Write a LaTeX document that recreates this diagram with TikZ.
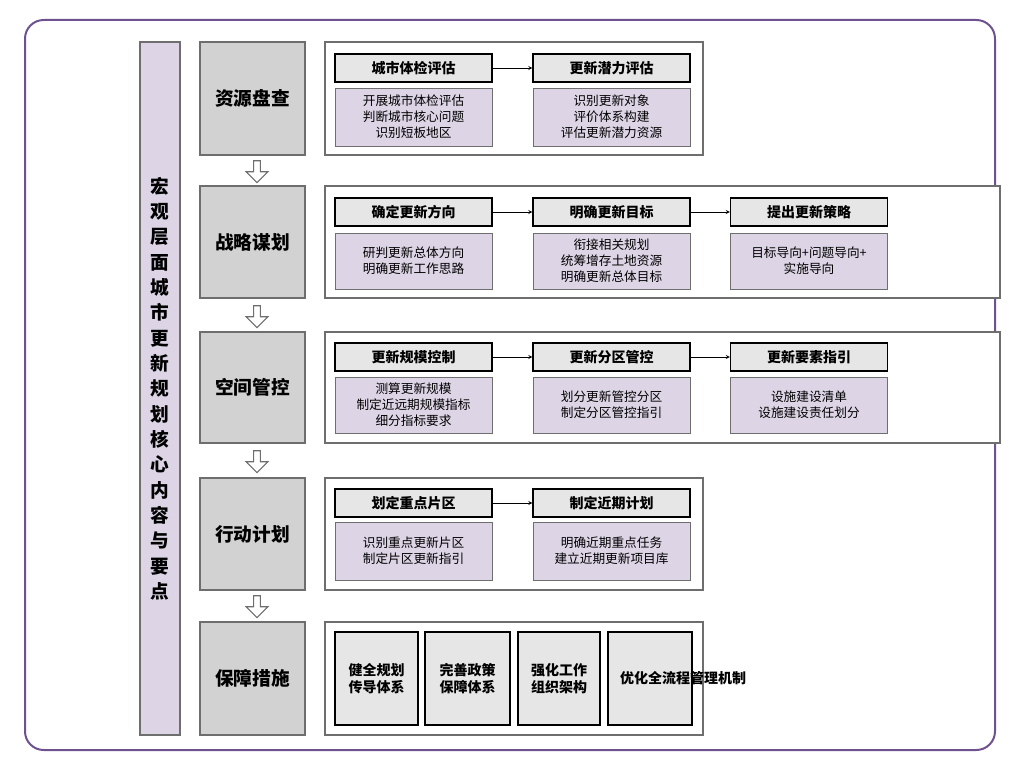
\documentclass[tikz,border=0pt]{standalone}
\usepackage{fontspec}
\setmainfont{Noto Sans CJK SC}
\usetikzlibrary{shapes.arrows}
\definecolor{frameP}{HTML}{6E5290}
\definecolor{lilac}{HTML}{DDD5E6}
\definecolor{stageG}{HTML}{D2D2D2}
\definecolor{headG}{HTML}{E6E6E6}
\definecolor{lineG}{HTML}{6E6E6E}

\begin{document}
\begin{tikzpicture}[x=0.75pt,y=-0.75pt,>=stealth]
  \tikzstyle{stage}=[draw=lineG,fill=stageG,line width=1pt,minimum width=105*0.75pt,font=\fontsize{14}{16}\selectfont\bfseries]
  \tikzstyle{group}=[draw=lineG,line width=2pt,fill=white]
  \tikzstyle{head}=[draw=black,fill=headG,line width=0.8pt,minimum width=157*0.75pt,minimum height=28*0.75pt,inner sep=0pt,font=\fontsize{10.5}{12}\selectfont\bfseries]
  \tikzstyle{body}=[fill=lilac,draw=lineG,line width=0.4pt,minimum width=157*0.75pt,inner sep=0pt,align=center,font=\fontsize{9.5}{12}\selectfont]
  \tikzstyle{down}=[single arrow,draw=lineG,fill=white,line width=0.8pt,shape border rotate=270,minimum width=22*0.75pt,single arrow head extend=7*0.75pt,minimum height=22*0.75pt,inner sep=2pt]

  \useasboundingbox (0,0) rectangle (1022,770);
  \draw[frameP,line width=1.5pt,rounded corners=14pt] (25,20) rectangle (995,750);

  % left title bar
  \node[draw=lineG,fill=lilac,line width=1pt,minimum width=40*0.75pt,minimum height=693*0.75pt,inner sep=0pt,
        text width=14pt,align=center,font=\fontsize{14}{19}\selectfont\bfseries] (title) at (160,388.5)
        {宏\\观\\层\\面\\城\\市\\更\\新\\规\\划\\核\\心\\内\\容\\与\\要\\点};

  % stages
  \node[stage,minimum height=113*0.75pt] (S1) at (252.5,98.5) {资源盘查};
  \node[stage,minimum height=112*0.75pt] (S2) at (252.5,242) {战略谋划};
  \node[stage,minimum height=111*0.75pt] (S3) at (252.5,387.5) {空间管控};
  \node[stage,minimum height=112*0.75pt] (S4) at (252.5,534) {行动计划};
  \node[stage,minimum height=113*0.75pt] (S5) at (252.5,678.5) {保障措施};

  \foreach \y in {170,315,460,605}
    \node[down] at (257,\y) {};

  % groups
  \draw[group] (325,42) rectangle (703,155);
  \draw[group] (325,186) rectangle (1000,298);
  \draw[group] (325,332) rectangle (1000,443);
  \draw[group] (325,478) rectangle (703,590);
  \draw[group] (325,622) rectangle (703,735);

  % row 1
  \node[head] (A1) at (413.5,68) {城市体检评估};
  \node[head] (A2) at (611.5,68) {更新潜力评估};
  \node[body,minimum height=58*0.75pt] (a1) at (413.5,117) {开展城市体检评估\\判断城市核心问题\\识别短板地区};
  \node[body,minimum height=58*0.75pt] (a2) at (611.5,117) {识别更新对象\\评价体系构建\\评估更新潜力资源};
  \draw[->] (A1) -- (A2);

  % row 2
  \node[head] (B1) at (413.5,212) {确定更新方向};
  \node[head] (B2) at (611.5,212) {明确更新目标};
  \node[head] (B3) at (809,212) {提出更新策略};
  \node[body,minimum height=56*0.75pt] (b1) at (413.5,261) {研判更新总体方向\\明确更新工作思路};
  \node[body,minimum height=56*0.75pt] (b2) at (611.5,261) {衔接相关规划\\统筹增存土地资源\\明确更新总体目标};
  \node[body,minimum height=56*0.75pt] (b3) at (809,261) {目标导向+问题导向+\\实施导向};
  \draw[->] (B1) -- (B2);
  \draw[->] (B2) -- (B3);

  % row 3
  \node[head] (C1) at (413.5,357) {更新规模控制};
  \node[head] (C2) at (611.5,357) {更新分区管控};
  \node[head] (C3) at (809,357) {更新要素指引};
  \node[body,minimum height=56*0.75pt] (c1) at (413.5,405) {测算更新规模\\制定近远期规模指标\\细分指标要求};
  \node[body,minimum height=56*0.75pt] (c2) at (611.5,405) {划分更新管控分区\\制定分区管控指引};
  \node[body,minimum height=56*0.75pt] (c3) at (809,405) {设施建设清单\\设施建设责任划分};
  \draw[->] (C1) -- (C2);
  \draw[->] (C2) -- (C3);

  % row 4
  \node[head] (D1) at (413.5,503) {划定重点片区};
  \node[head] (D2) at (611.5,503) {制定近期计划};
  \node[body,minimum height=58*0.75pt] (d1) at (413.5,551) {识别重点更新片区\\制定片区更新指引};
  \node[body,minimum height=58*0.75pt] (d2) at (611.5,551) {明确近期重点任务\\建立近期更新项目库};
  \draw[->] (D1) -- (D2);

  % row 5
  \tikzstyle{measure}=[draw=black,fill=headG,line width=0.8pt,minimum height=93*0.75pt,inner sep=0pt,align=center,font=\fontsize{10.5}{13}\selectfont\bfseries]
  \node[measure,minimum width=83*0.75pt] (E1) at (376.5,678.5) {健全规划\\传导体系};
  \node[measure,minimum width=85*0.75pt] (E2) at (467.5,678.5) {完善政策\\保障体系};
  \node[measure,minimum width=82*0.75pt] (E3) at (559,678.5) {强化工作\\组织架构};
  \node[measure,minimum width=84*0.75pt,text width=60*0.75pt] (E4) at (650,678.5) {优化全流程管理机制};
\end{tikzpicture}
\end{document}
